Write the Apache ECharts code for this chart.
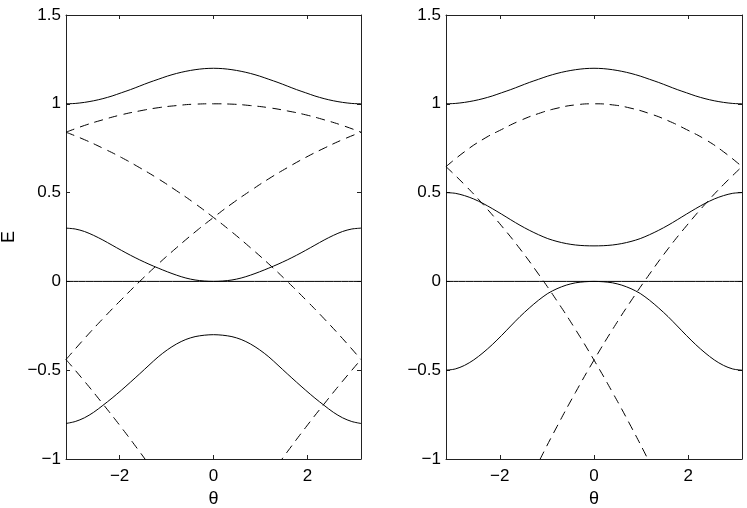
<!DOCTYPE html>
<html>
<head>
<meta charset="utf-8">
<script src="https://cdn.jsdelivr.net/npm/echarts@6/dist/echarts.min.js"></script>
<style>
    html, body { margin: 0; padding: 0; background: #fff; }
    #chart { width: 747px; height: 508px; }
</style>
</head>
<body>
<div id="chart"></div>
<script>
// sample angles: coarse step pi/8 for dashed curves, fine step pi/16 for solid ones
const theta = [-3.1416, -2.7489, -2.3562, -1.9635, -1.5708, -1.1781, -0.7854, -0.3927, 0,
    0.3927, 0.7854, 1.1781, 1.5708, 1.9635, 2.3562, 2.7489, 3.1416];
const fineTheta = [-3.1416, -2.9452, -2.7489, -2.5525, -2.3562, -2.1598, -1.9635, -1.7671, -1.5708,
    -1.3744, -1.1781, -0.9817, -0.7854, -0.5890, -0.3927, -0.1963, 0,
    0.1963, 0.3927, 0.5890, 0.7854, 0.9817, 1.1781, 1.3744, 1.5708,
    1.7671, 1.9635, 2.1598, 2.3562, 2.5525, 2.7489, 2.9452, 3.1416];
const xTicks = [-2, 0, 2];

// left panel, solid (fineTheta)
const leftSolidTop = [1.0, 1.002, 1.008, 1.017, 1.029, 1.044, 1.062, 1.080, 1.10, 1.120, 1.138, 1.156, 1.171, 1.183, 1.192, 1.198, 1.2,
    1.198, 1.192, 1.183, 1.171, 1.156, 1.138, 1.120, 1.10, 1.080, 1.062, 1.044, 1.029, 1.017, 1.008, 1.002, 1.0];
const leftSolidMid = [0.30, 0.295, 0.281, 0.259, 0.233, 0.204, 0.175, 0.147, 0.121, 0.097, 0.075, 0.054, 0.035, 0.019, 0.008, 0.002, 0,
    0.002, 0.008, 0.019, 0.035, 0.054, 0.075, 0.097, 0.121, 0.147, 0.175, 0.204, 0.233, 0.259, 0.281, 0.295, 0.30];
const leftSolidLow = [-0.80, -0.789, -0.768, -0.737, -0.698, -0.657, -0.613, -0.567, -0.52, -0.472, -0.425, -0.385, -0.352, -0.327, -0.311, -0.303, -0.30,
    -0.303, -0.311, -0.327, -0.352, -0.385, -0.425, -0.472, -0.52, -0.567, -0.613, -0.657, -0.698, -0.737, -0.768, -0.789, -0.80];
// left panel, dashed (theta)
const leftDashTop = [0.84, 0.878, 0.91, 0.938, 0.96, 0.978, 0.99, 0.998, 1.0, 0.998, 0.99, 0.978, 0.96, 0.938, 0.91, 0.878, 0.84];
const leftDashDown = [0.84, 0.798, 0.75, 0.698, 0.64, 0.578, 0.51, 0.438, 0.36, 0.278, 0.19, 0.098, 0.0, -0.103, -0.21, -0.322, -0.44];
const leftDashUp = [-0.44, -0.322, -0.21, -0.103, 0.0, 0.098, 0.19, 0.278, 0.36, 0.438, 0.51, 0.578, 0.64, 0.698, 0.75, 0.798, 0.84];
const leftLowThetaL = [-3.1416, -2.7489, -2.3562, -1.9635, -1.5708, -1.1781];
const leftDashLowL = [-0.44, -0.562, -0.69, -0.822, -0.96, -1.102];
const leftLowThetaR = [1.1781, 1.5708, 1.9635, 2.3562, 2.7489, 3.1416];
const leftDashLowR = [-1.102, -0.96, -0.822, -0.69, -0.562, -0.44];

// right panel, solid (fineTheta)
const rightSolidTop = [1.0, 1.002, 1.008, 1.017, 1.029, 1.044, 1.062, 1.080, 1.10, 1.120, 1.138, 1.156, 1.171, 1.183, 1.192, 1.198, 1.2,
    1.198, 1.192, 1.183, 1.171, 1.156, 1.138, 1.120, 1.10, 1.080, 1.062, 1.044, 1.029, 1.017, 1.008, 1.002, 1.0];
const rightSolidMid = [0.50, 0.496, 0.483, 0.464, 0.439, 0.410, 0.379, 0.347, 0.316, 0.288, 0.263, 0.241, 0.225, 0.213, 0.205, 0.201, 0.20,
    0.201, 0.205, 0.213, 0.225, 0.241, 0.263, 0.288, 0.316, 0.347, 0.379, 0.410, 0.439, 0.464, 0.483, 0.496, 0.50];
const rightSolidLow = [-0.50, -0.493, -0.473, -0.442, -0.402, -0.356, -0.305, -0.251, -0.198, -0.150, -0.106, -0.068, -0.041, -0.021, -0.008, -0.002, 0,
    -0.002, -0.008, -0.021, -0.041, -0.068, -0.106, -0.150, -0.198, -0.251, -0.305, -0.356, -0.402, -0.442, -0.473, -0.493, -0.50];
// right panel, dashed
const rightDashTop = [0.646, 0.73, 0.80, 0.855, 0.905, 0.945, 0.975, 0.994, 1.0, 0.994, 0.975, 0.945, 0.905, 0.855, 0.80, 0.73, 0.646];
const rightDownTheta = [-3.1416, -2.7489, -2.3562, -1.9635, -1.5708, -1.1781, -0.7854, -0.3927, 0, 0.3927, 0.7854, 1.1781, 1.5708];
const rightDashDown = [0.646, 0.545, 0.434, 0.313, 0.183, 0.041, -0.11, -0.271, -0.443, -0.625, -0.817, -1.019, -1.231];
const rightUpTheta = [-1.5708, -1.1781, -0.7854, -0.3927, 0, 0.3927, 0.7854, 1.1781, 1.5708, 1.9635, 2.3562, 2.7489, 3.1416];
const rightDashUp = [-1.231, -1.019, -0.817, -0.625, -0.443, -0.271, -0.11, 0.041, 0.183, 0.313, 0.434, 0.545, 0.646];

const zeroTheta = [-3.1416, 3.1416];
const zeroLine = [0, 0];

const yTicks = { min: -1, max: 1.5, interval: 0.5 };

const font = 'Liberation Sans, Arial, Helvetica, sans-serif';
const axisColor = '#222';

function minus(v) {
    return String(v).replace('-', '\u2212');
}

function pairs(xs, ys) {
    return xs.map((x, i) => [x, ys[i]]);
}

function xAxisPair(gridIndex) {
    const base = {
        gridIndex: gridIndex,
        type: 'value',
        min: -3.1416,
        max: 3.1416,
        axisLine: { show: true, onZero: false, lineStyle: { color: axisColor, width: 1 } },
        axisTick: { show: true, inside: true, length: 4, customValues: xTicks, lineStyle: { color: axisColor } },
        splitLine: { show: false }
    };
    return [
        Object.assign({}, base, {
            position: 'bottom',
            name: 'θ',
            nameLocation: 'middle',
            nameGap: 26,
            nameTextStyle: { fontSize: 18, fontFamily: font, color: '#000' },
            axisLabel: { show: true, customValues: xTicks, formatter: minus, fontSize: 17, fontFamily: font, color: '#000', margin: 9 }
        }),
        Object.assign({}, base, { position: 'top', axisLabel: { show: false } })
    ];
}

function yAxisPair(gridIndex, name) {
    const base = {
        gridIndex: gridIndex,
        type: 'value',
        min: yTicks.min,
        max: yTicks.max,
        interval: yTicks.interval,
        axisLine: { show: true, onZero: false, lineStyle: { color: axisColor, width: 1 } },
        axisTick: { show: true, inside: true, length: 4, lineStyle: { color: axisColor } },
        splitLine: { show: false }
    };
    return [
        Object.assign({}, base, {
            position: 'left',
            name: name,
            nameLocation: 'middle',
            nameRotate: 90,
            nameGap: 48,
            nameTextStyle: { fontSize: 18, fontFamily: font, color: '#000' },
            axisLabel: { show: true, formatter: minus, fontSize: 17, fontFamily: font, color: '#000', margin: 5 }
        }),
        Object.assign({}, base, { position: 'right', axisLabel: { show: false } })
    ];
}

function line(axis, xs, ys, dashed) {
    return {
        type: 'line',
        xAxisIndex: axis,
        yAxisIndex: axis,
        data: pairs(xs, ys),
        smooth: dashed ? true : 0.3,
        symbol: 'none',
        clip: true,
        silent: true,
        lineStyle: {
            color: '#000',
            width: 1,
            type: dashed ? [9, 6] : 'solid'
        }
    };
}

const chart = echarts.init(document.getElementById('chart'));
chart.setOption({
    animation: false,
    backgroundColor: '#fff',
    grid: [
        { left: 66, top: 15, width: 295, height: 444, outerBoundsMode: 'none', containLabel: false },
        { left: 446, top: 15, width: 296, height: 444, outerBoundsMode: 'none', containLabel: false }
    ],
    xAxis: xAxisPair(0).concat(xAxisPair(1)),
    yAxis: yAxisPair(0, 'E').concat(yAxisPair(1, '')),
    series: [
        // left panel (axes 0)
        line(0, fineTheta, leftSolidTop, false),
        line(0, fineTheta, leftSolidMid, false),
        line(0, fineTheta, leftSolidLow, false),
        line(0, zeroTheta, zeroLine, false),
        line(0, theta, leftDashTop, true),
        line(0, theta, leftDashDown, true),
        line(0, theta, leftDashUp, true),
        line(0, leftLowThetaL, leftDashLowL, true),
        line(0, leftLowThetaR, leftDashLowR, true),
        // right panel (axes 2)
        line(2, fineTheta, rightSolidTop, false),
        line(2, fineTheta, rightSolidMid, false),
        line(2, fineTheta, rightSolidLow, false),
        line(2, zeroTheta, zeroLine, false),
        line(2, theta, rightDashTop, true),
        line(2, rightDownTheta, rightDashDown, true),
        line(2, rightUpTheta, rightDashUp, true)
    ]
});
</script>
</body>
</html>
